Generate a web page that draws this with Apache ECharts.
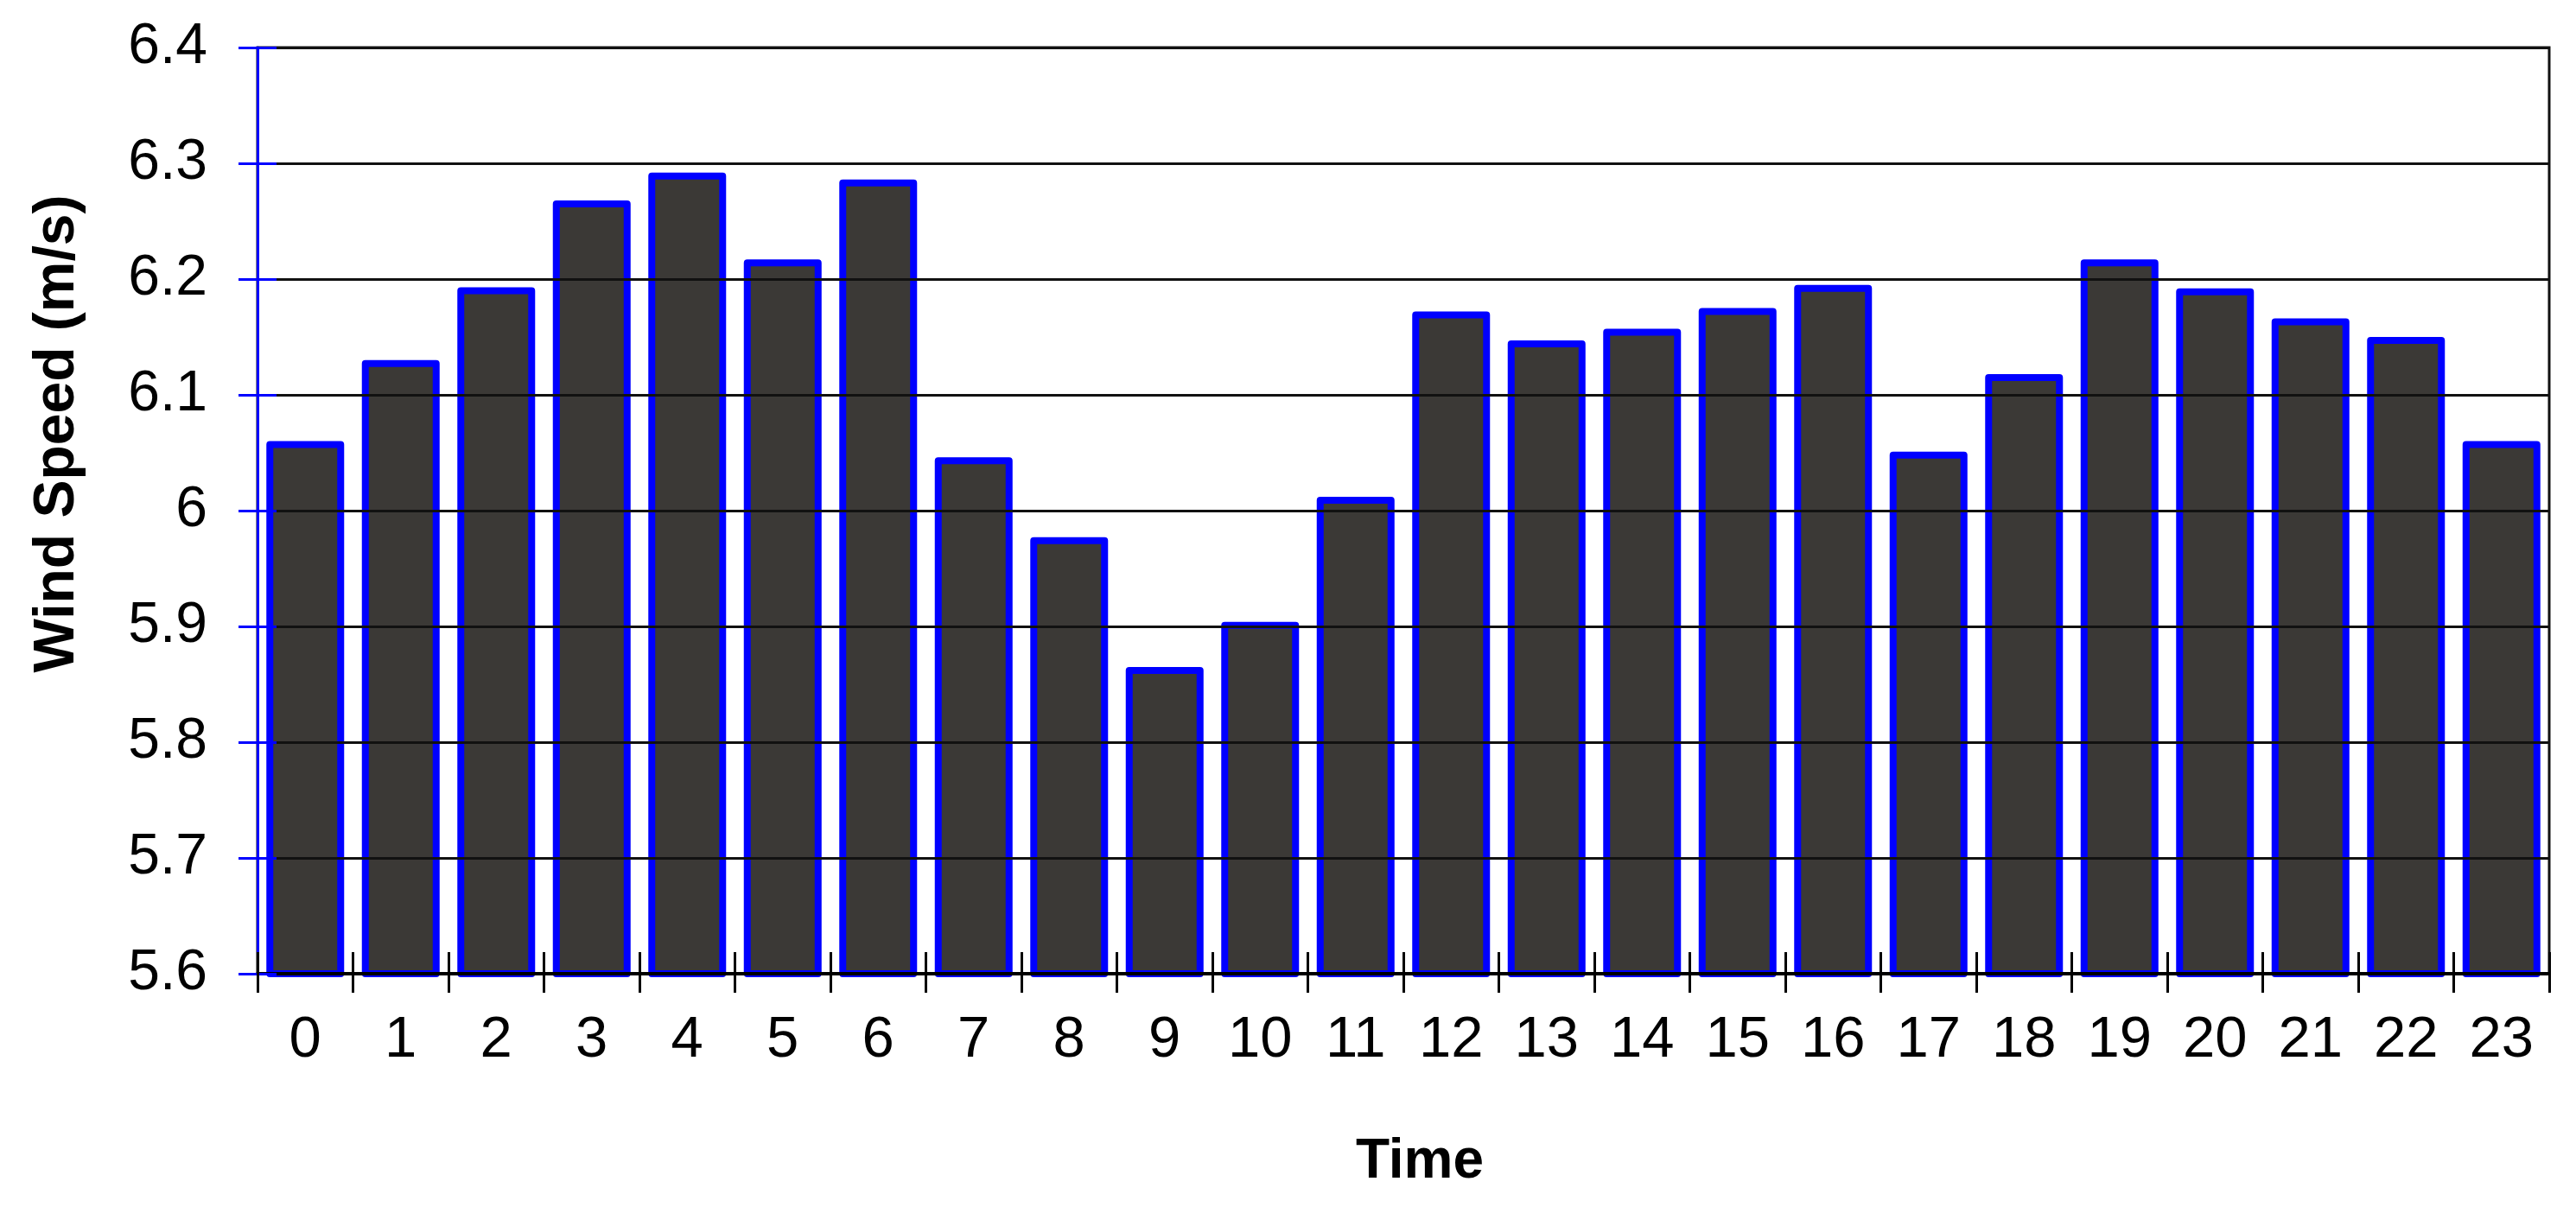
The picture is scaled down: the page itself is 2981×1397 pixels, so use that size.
<!DOCTYPE html>
<html>
<head>
<meta charset="utf-8">
<script src="https://cdn.jsdelivr.net/npm/echarts@6/dist/echarts.min.js"></script>
<style>
html,body{margin:0;padding:0;background:#fff;}
#chart{width:2981px;height:1397px;}
</style>
</head>
<body>
<div id="chart"></div>
<script>
const hours = ['0','1','2','3','4','5','6','7','8','9','10','11','12','13','14','15','16','17','18','19','20','21','22','23'];
const windSpeed = [6.060, 6.130, 6.193, 6.268, 6.292, 6.217, 6.286, 6.046, 5.977, 5.865, 5.904, 6.012,
                   6.172, 6.147, 6.157, 6.175, 6.195, 6.051, 6.118, 6.217, 6.192, 6.166, 6.150, 6.060];
const yMin = 5.6, yMax = 6.4, yStep = 0.1;
const xTitle = 'Time';
const yTitle = 'Wind Speed (m/s)';

const FONT = '"Liberation Sans", Arial, sans-serif';
const chart = echarts.init(document.getElementById('chart'), null, {renderer: 'canvas'});
chart.setOption({
  backgroundColor: '#ffffff',
  animation: false,
  grid: {
    left: 298, right: 31, top: 55, bottom: 270,
    show: true, borderColor: '#111', borderWidth: 3, backgroundColor: 'transparent'
  },
  xAxis: [{
    type: 'category',
    data: hours,
    position: 'bottom',
    z: 10,
    boundaryGap: true,
    axisLine: {show: true, lineStyle: {color: '#000', width: 4}},
    axisTick: {show: true, inside: false, length: 22, lineStyle: {color: '#000', width: 3}},
    axisLabel: {fontSize: 67, color: '#000', margin: 44, fontFamily: FONT},
    splitLine: {show: false},
    name: xTitle,
    nameLocation: 'middle',
    nameGap: 186,
    nameTextStyle: {fontSize: 64, fontWeight: 'bold', color: '#000', fontFamily: FONT, padding: [0, 0, 0, 38]}
  }, {
    type: 'category',
    data: hours,
    position: 'bottom',
    z: 10,
    boundaryGap: true,
    axisLine: {show: false},
    axisTick: {show: true, inside: true, length: 25, lineStyle: {color: '#000', width: 3}},
    axisLabel: {show: false},
    splitLine: {show: false}
  }],
  yAxis: [{
    type: 'value',
    min: yMin, max: yMax, interval: yStep,
    position: 'left',
    z: 10,
    axisLine: {show: true, lineStyle: {color: '#0000ff', width: 3}},
    axisTick: {show: true, inside: false, length: 22, lineStyle: {color: '#0000ff', width: 3}},
    axisLabel: {fontSize: 66, color: '#000', margin: 58, fontFamily: FONT},
    splitLine: {show: true, lineStyle: {color: '#111', width: 3}},
    name: yTitle,
    nameLocation: 'middle',
    nameRotate: 90,
    nameGap: 198,
    nameTextStyle: {fontSize: 66, fontWeight: 'bold', color: '#000', fontFamily: FONT, padding: [0, 0, 0, 178]}
  }, {
    type: 'value',
    min: yMin, max: yMax, interval: yStep,
    position: 'left',
    z: 10,
    axisLine: {show: false},
    axisTick: {show: true, inside: true, length: 22, lineStyle: {color: '#0000ff', width: 3}},
    axisLabel: {show: false},
    splitLine: {show: false}
  }],
  series: [{
    type: 'bar',
    xAxisIndex: 0,
    yAxisIndex: 0,
    data: windSpeed,
    barWidth: 90,
    itemStyle: {color: '#3b3936', borderColor: '#0000ff', borderWidth: 8, borderJoin: 'round'}
  }]
});
</script>
</body>
</html>
